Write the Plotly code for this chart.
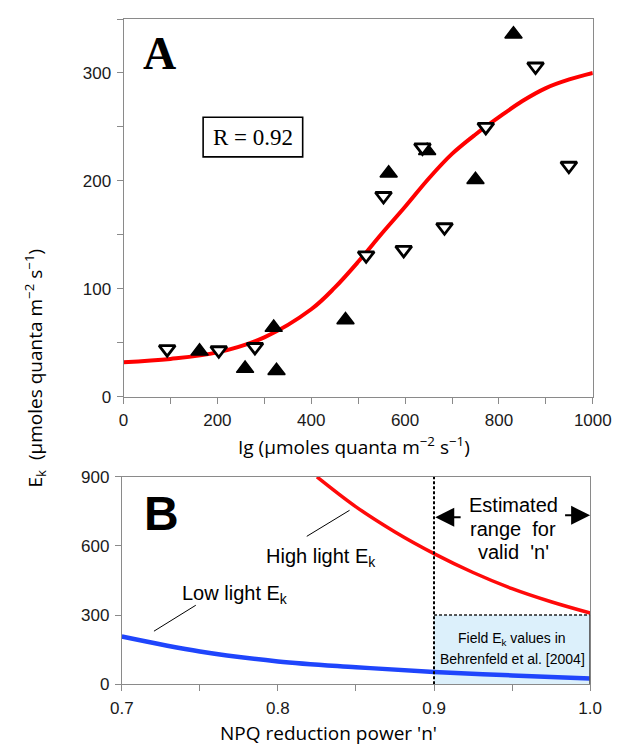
import plotly.graph_objects as go

# ---------------- Panel A data ----------------
# Ek vs Ig: high-light samples (filled up-triangles)
hl_ig = [162, 259, 320, 326, 473, 565, 647, 750, 831]
hl_ek = [42, 26, 64, 24, 71, 207, 228, 201, 336]
# low-light samples (open down-triangles)
ll_ig = [93, 203, 280, 517, 554, 597, 637, 684, 772, 878, 949]
ll_ek = [44, 43, 46, 131, 186, 136, 231, 157, 250, 306, 214]
# fitted sigmoid curve
fit_ig = [0, 100, 200, 300, 400, 450, 500, 550, 600, 650, 700, 750, 800, 850, 900, 950, 1000]
fit_ek = [32, 35, 41, 55, 81, 101, 125, 151, 176, 202, 225, 243, 259, 274, 286, 294, 300]
r_value = 0.92

# ---------------- Panel B data ----------------
n_low = [0.70, 0.75, 0.80, 0.85, 0.90, 0.95, 1.00]
ek_low = [207, 142, 99, 74, 53, 38, 25]
n_high = [0.825, 0.85, 0.875, 0.90, 0.925, 0.95, 0.975, 1.00]
ek_high = [900, 770, 661, 567, 485, 415, 358, 309]
n_valid = [0.9, 1.0]       # estimated valid range for 'n'
field_ek_max = 300         # upper bound of field Ek values

W, H = 631, 752


def fx(p):
    return p / W


def fy(p):
    return 1 - p / H


SANS = "Liberation Sans"
SERIF = "Liberation Serif"
TITLE = "Open Sans"
FRAME = "#8a8a8a"

fig = go.Figure()

fig.add_trace(go.Scatter(x=fit_ig, y=fit_ek, mode="lines", line=dict(color="#ff0000", width=4, shape="spline"),
                         xaxis="x", yaxis="y", showlegend=False, hoverinfo="skip"))
fig.add_trace(go.Scatter(x=hl_ig, y=hl_ek, mode="markers", xaxis="x", yaxis="y", showlegend=False, cliponaxis=False,
                         marker=dict(symbol="triangle-up", size=15, color="black", line=dict(color="black", width=1.5))))
fig.add_trace(go.Scatter(x=ll_ig, y=ll_ek, mode="markers", xaxis="x", yaxis="y", showlegend=False, cliponaxis=False,
                         marker=dict(symbol="triangle-down", size=14, color="white", line=dict(color="black", width=2.8))))

fig.add_trace(go.Scatter(x=n_high, y=ek_high, mode="lines", line=dict(color="#ff0a0a", width=3.5, shape="spline"),
                         xaxis="x2", yaxis="y2", showlegend=False))
fig.add_trace(go.Scatter(x=n_low, y=ek_low, mode="lines", line=dict(color="#1f45fc", width=4.5, shape="spline"),
                         xaxis="x2", yaxis="y2", showlegend=False))

axis_common = dict(showline=True, linecolor=FRAME, linewidth=1, mirror=True, ticks="outside", ticklen=6,
                   tickcolor=FRAME, showgrid=False, zeroline=False, ticklabelstandoff=2,
                   tickfont=dict(family=SANS, size=17, color="#1a1a1a"))

fig.update_layout(
    width=W, height=H, margin=dict(l=0, r=0, t=0, b=0),
    paper_bgcolor="white", plot_bgcolor="white",
    xaxis=dict(domain=[fx(117.3), fx(610.8)], range=[0, 1000], tickvals=[0, 200, 400, 600, 800, 1000],
               minor=dict(dtick=100, ticks="outside", ticklen=6, tickcolor=FRAME), anchor="y", **axis_common),
    yaxis=dict(domain=[fy(397.7), fy(10.3)], range=[0, 350], tickvals=[0, 100, 200, 300],
               minor=dict(dtick=50, ticks="outside", ticklen=6, tickcolor=FRAME), anchor="x", **axis_common),
    xaxis2=dict(domain=[fx(115.5), fx(608)], range=[0.7, 1.0], tickvals=[0.7, 0.8, 0.9, 1.0],
                ticktext=["0.7", "0.8", "0.9", "1.0"],
                minor=dict(dtick=0.05, ticks="outside", ticklen=6, tickcolor=FRAME), anchor="y2", **axis_common),
    yaxis2=dict(domain=[fy(692.7), fy(480)], range=[0, 900], tickvals=[0, 300, 600, 900], anchor="x2",
                **axis_common),
)

shapes = [
    # R box
    dict(type="rect", xref="paper", yref="paper", x0=fx(201), x1=fx(305.7), y0=fy(151.7), y1=fy(111),
         line=dict(color="black", width=1.6), fillcolor="rgba(0,0,0,0)"),
    # field Ek box
    dict(type="rect", xref="x2", yref="y2", x0=n_valid[0], x1=n_valid[1], y0=0, y1=field_ek_max,
         fillcolor="#dcf0fb", line=dict(width=0), layer="below"),
    dict(type="line", xref="x2", yref="y2", x0=n_valid[0], x1=n_valid[1], y0=field_ek_max, y1=field_ek_max,
         line=dict(color="#222", width=1.5, dash="3px,2px")),
    dict(type="line", xref="x2", yref="y2", x0=n_valid[1], x1=n_valid[1], y0=0, y1=field_ek_max,
         line=dict(color="#555", width=2)),
    dict(type="line", xref="x2", yref="y2", x0=n_valid[0], x1=n_valid[0], y0=0, y1=900,
         line=dict(color="black", width=2, dash="3px,2px")),
    # leader lines
    dict(type="line", xref="paper", yref="paper", x0=fx(149.3), y0=fy(638.3), x1=fx(193.3), y1=fy(611.7),
         line=dict(color="black", width=1)),
    dict(type="line", xref="paper", yref="paper", x0=fx(310), y0=fy(541), x1=fx(355), y1=fy(514.3),
         line=dict(color="black", width=1)),
]
fig.update_layout(shapes=shapes)


def note(text, x, y, size, family=SANS, **kw):
    return dict(text=text, x=fx(x), y=fy(y), xref="paper", yref="paper", showarrow=False,
                xanchor="center", yanchor="middle", font=dict(family=family, size=size, color="black"), **kw)


annotations = [
    note("<b>A</b>", 155, 46, 46, SERIF),
    note(f"R = {r_value:.2f}", 253.5, 132, 23, SERIF),
    note("<b>B</b>", 157, 518, 48),
    note("Low light E<sub>k</sub>", 234, 601, 20),
    note("High light E<sub>k</sub>", 325, 563, 20),
    note("Estimated", 527, 509, 20),
    note("range  for", 527, 533, 20),
    note("valid  'n'", 527, 557, 20),
    note("Field E<sub>k</sub> values in", 526, 646, 14),
    note("Behrenfeld et al. [2004]", 526, 667, 14),
    note("Ig (µmoles quanta m<sup>−2</sup> s<sup>−1</sup>)", 360, 448, 19, TITLE),
    note("NPQ reduction power 'n'", 333, 743, 19, TITLE),
    note("E<sub>k</sub>  (µmoles quanta m<sup>−2</sup> s<sup>−1</sup>)", 24, 368, 19, TITLE, textangle=-90),
    # range arrows
    dict(x=0.9008, y=725, xref="x2", yref="y2", ax=0.918, ay=725, axref="x2", ayref="y2", text="",
         showarrow=True, arrowhead=2, arrowwidth=2, arrowsize=1.9, arrowcolor="black"),
    dict(x=1.0, y=733, xref="x2", yref="y2", ax=0.983, ay=733, axref="x2", ayref="y2", text="",
         showarrow=True, arrowhead=2, arrowwidth=2, arrowsize=1.9, arrowcolor="black"),
]
fig.update_layout(annotations=annotations)

fig.write_html("out.html")
